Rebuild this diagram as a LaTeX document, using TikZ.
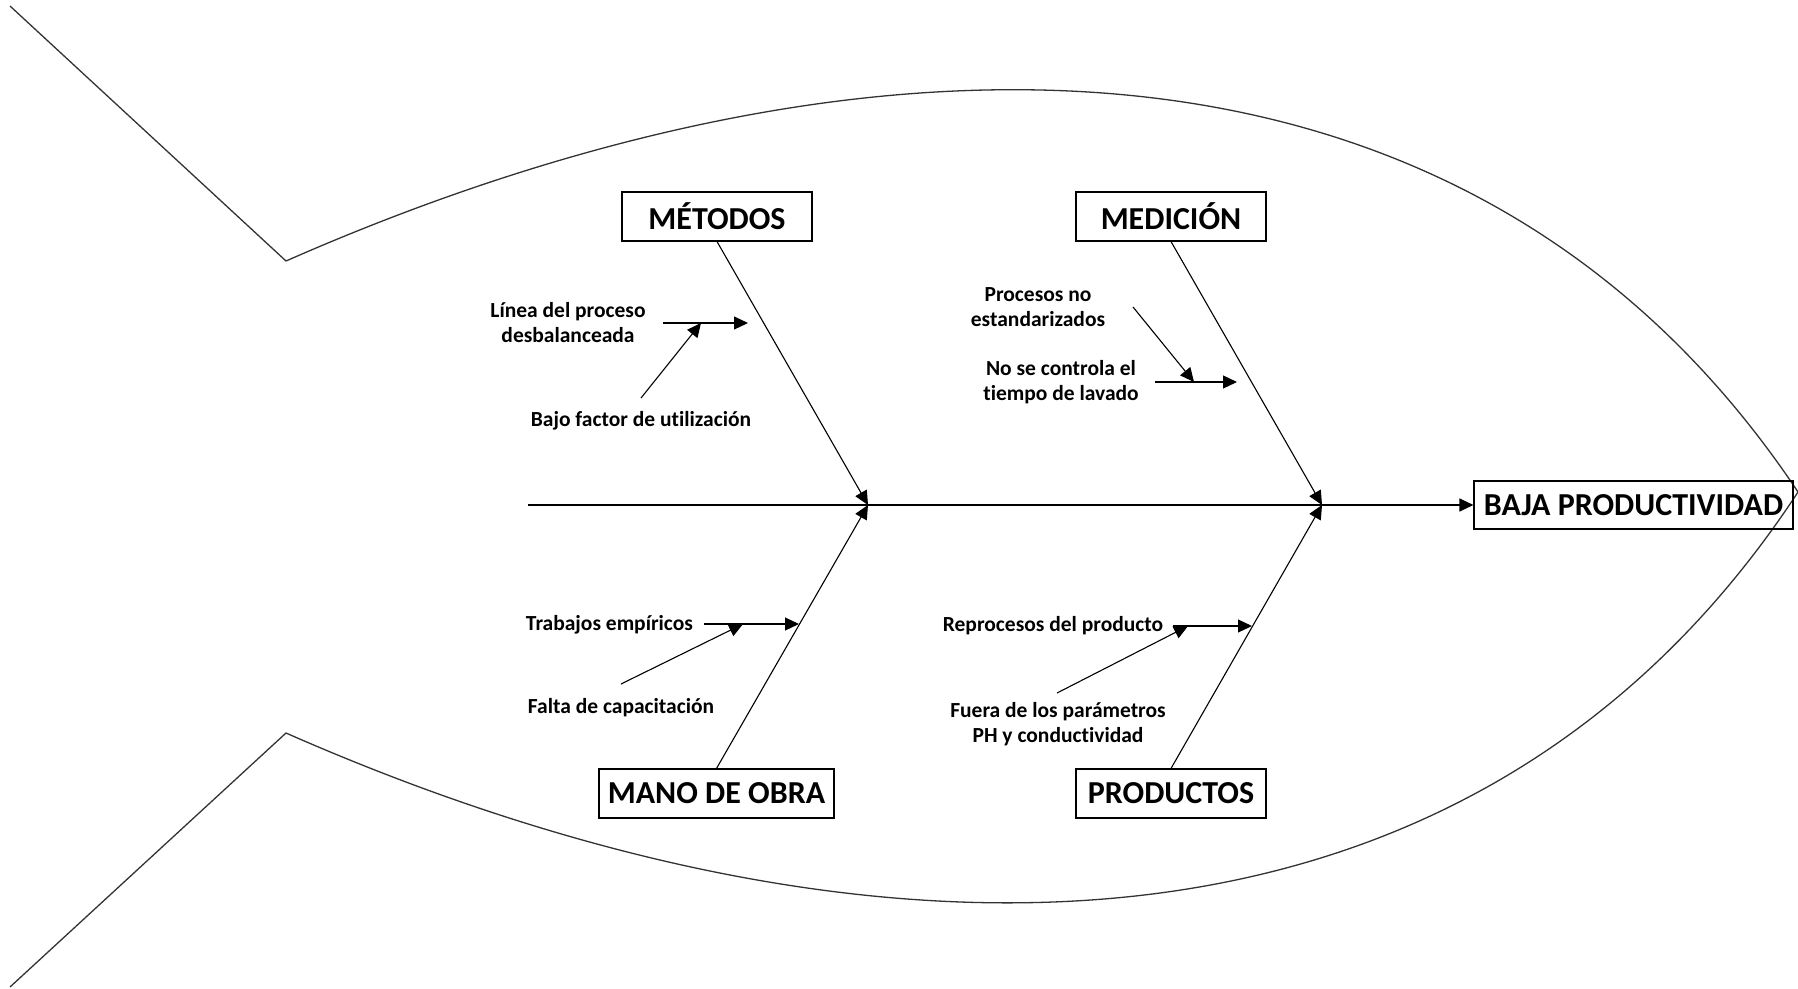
\documentclass[tikz,border=0pt]{standalone}
\usepackage{fontspec}
\setmainfont{Carlito}[Ligatures=NoCommon]
\usetikzlibrary{arrows.meta}
\begin{document}
\begin{tikzpicture}[x=1pt,y=-1pt,
  outline/.style={line width=1.3pt,draw=black!80},
  bone/.style={line width=1.1pt,-{Triangle[length=14pt,width=13pt]}},
  catbox/.style={draw,line width=1.1pt,minimum height=49pt,inner sep=0pt,
    font=\fontsize{32}{38}\selectfont\bfseries},
  cause/.style={align=center,inner sep=0pt,font=\fontsize{21.5}{25}\selectfont\bfseries}]
\useasboundingbox (0,0) rectangle (1798,988);

% fish outline: tail and body
\draw[outline] (10,6) -- (286,261)
  .. controls (836,19) and (1458,-18) .. (1798,492)
  .. controls (1458,1010) and (836,975) .. (286,733) -- (10,987);

% category and effect boxes
\node[catbox,minimum width=190pt] (met) at (717,216.5) {MÉTODOS};
\node[catbox,minimum width=190pt] (med) at (1171,216.5) {MEDICIÓN};
\node[catbox,minimum width=235pt] (mano) at (716.5,793.5) {MANO DE OBRA};
\node[catbox,minimum width=190pt] (prod) at (1171,793.5) {PRODUCTOS};
\node[catbox,minimum width=319pt,minimum height=48pt] (efecto) at (1633.5,505) {BAJA PRODUCTIVIDAD};

% spine
\coordinate (cola) at (528,505);
\coordinate (j1) at (868,505);
\coordinate (j2) at (1322,505);
\draw[bone] (cola) -- (efecto.west);

% main bones
\draw[bone] (met.south) -- (j1);
\draw[bone] (mano.north) -- (j1);
\draw[bone] (med.south) -- (j2);
\draw[bone] (prod.north) -- (j2);

% cause labels
\node[cause] (c1) at (568,323) {Línea del proceso\\desbalanceada};
\node[cause] (c2) at (641,421) {Bajo factor de utilización};
\node[cause] (c3) at (1038,307) {Procesos no\\estandarizados};
\node[cause] (c4) at (1061,382) {No se controla el\\tiempo de lavado};
\node[cause] (c5) at (609.5,625) {Trabajos empíricos};
\node[cause] (c6) at (621,708) {Falta de capacitación};
\node[cause] (c7) at (1053,626) {Reprocesos del producto};
\node[cause] (c8) at (1058,724) {Fuera de los parámetros\\PH y conductividad};

% sub-cause arrows
\coordinate (a1s) at (663,323);   \coordinate (a1e) at (748,323);
\coordinate (a2s) at (641,398);   \coordinate (a2e) at (701,323);
\coordinate (a3s) at (1155,382);  \coordinate (a3e) at (1237,382);
\coordinate (a4s) at (1133,307);  \coordinate (a4e) at (1194,382);
\coordinate (a5s) at (704,624);   \coordinate (a5e) at (799,624);
\coordinate (a6s) at (621,684);   \coordinate (a6e) at (743,624);
\coordinate (a7s) at (1173,626);  \coordinate (a7e) at (1252,626);
\coordinate (a8s) at (1057,693);  \coordinate (a8e) at (1188,626);
\draw[bone] (a1s) -- (a1e);
\draw[bone] (a2s) -- (a2e);
\draw[bone] (a3s) -- (a3e);
\draw[bone] (a4s) -- (a4e);
\draw[bone] (a5s) -- (a5e);
\draw[bone] (a6s) -- (a6e);
\draw[bone] (a7s) -- (a7e);
\draw[bone] (a8s) -- (a8e);
\end{tikzpicture}
\end{document}
